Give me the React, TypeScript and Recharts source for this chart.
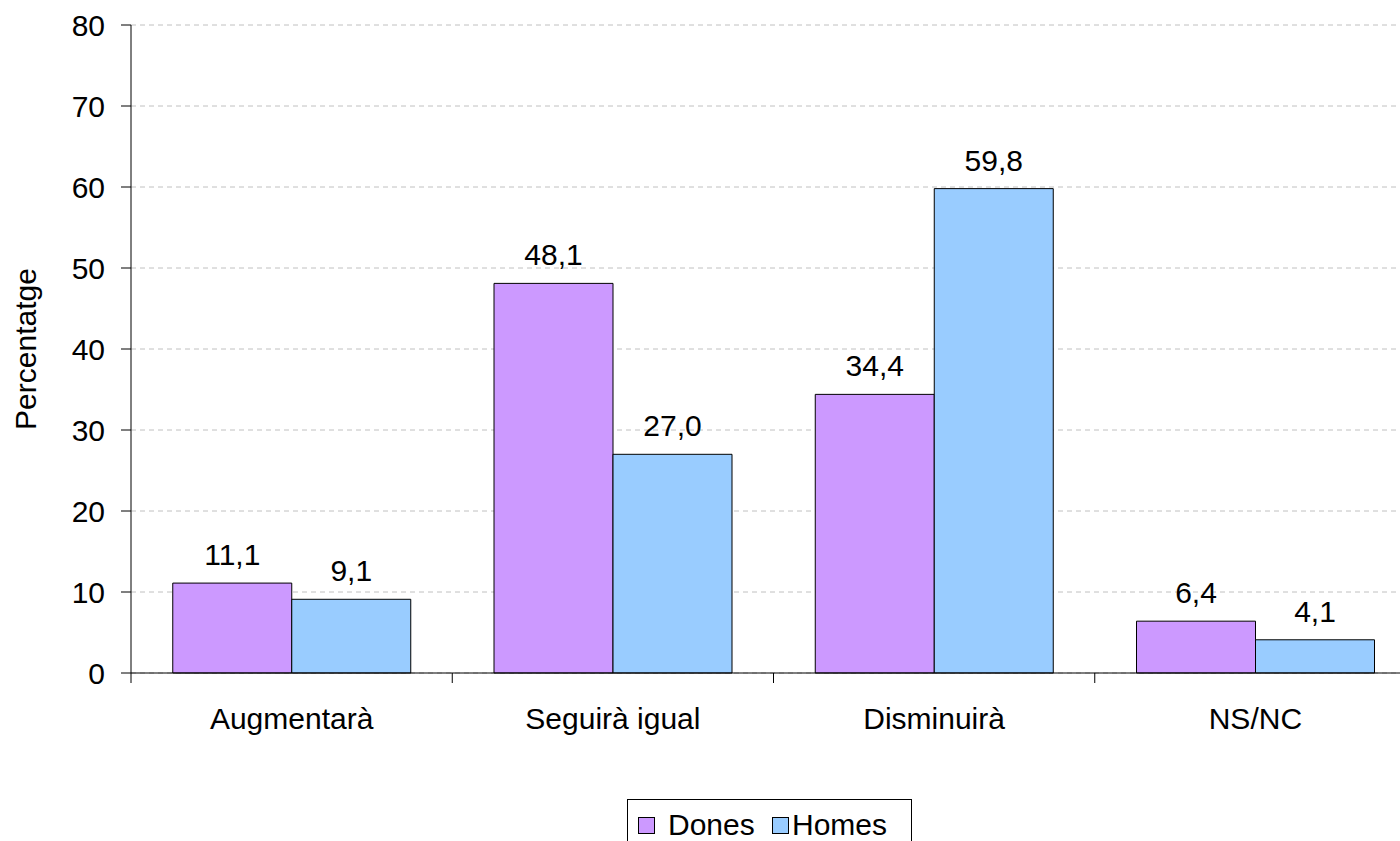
import React from 'react';
import { BarChart, Bar, XAxis, YAxis, CartesianGrid, LabelList, Legend, Label } from 'recharts';

const categories = ['Augmentarà', 'Seguirà igual', 'Disminuirà', 'NS/NC'];
const dones = [11.1, 48.1, 34.4, 6.4];
const homes = [9.1, 27.0, 59.8, 4.1];
const yTicks = [0, 10, 20, 30, 40, 50, 60, 70, 80];
const seriesNames = ['Dones', 'Homes'];
const seriesColors = ['#CC99FF', '#99CCFF'];

const data = categories.map((c, i) => ({ cat: c, dones: dones[i], homes: homes[i] }));

const FONT = '"Liberation Sans", Arial, sans-serif';
const fmt = (v: any) => Number(v).toFixed(1).replace('.', ',');

const XTick = (props: any) => {
  const { x, y, payload, index } = props;
  const off = payload && payload.offset != null ? payload.offset : 160.6;
  const top = y - 35;
  return (
    <g>
      <line x1={x - off} x2={x - off} y1={top} y2={top + 10} stroke="#000" strokeWidth={1} />
      {index === categories.length - 1 && (
        <line x1={x + off} x2={x + off} y1={top} y2={top + 10} stroke="#000" strokeWidth={1} />
      )}
      <text x={x} y={y} dy="0.71em" textAnchor="middle" fontSize={30} fontFamily={FONT} fill="#000">
        {payload.value}
      </text>
    </g>
  );
};

const LegendContent = (props: any) => {
  const squareX = [11, 145];
  const textX = [41, 165];
  return (
    <svg width={285} height={44} style={{ display: 'block' }}>
      <rect x={0.5} y={0.5} width={284} height={60} fill="#fff" stroke="#000" strokeWidth={1} />
      {seriesNames.map((n, i) => (
        <g key={n}>
          <rect x={squareX[i] + 0.5} y={18.5} width={16} height={16} fill={seriesColors[i]} stroke="#000" strokeWidth={1} />
          <text x={textX[i]} y={36} fontSize={30} fontFamily={FONT} fill="#000">{n}</text>
        </g>
      ))}
    </svg>
  );
};

const YTitle = (props: any) => {
  const vb = props.viewBox || { x: 0, y: 25, height: 648 };
  const cx = 25;
  const cy = vb.y + vb.height / 2;
  return (
    <text x={cx} y={cy} transform={`rotate(-90, ${cx}, ${cy})`} textAnchor="middle" dominantBaseline="central"
      fontSize={30} fontFamily={FONT} fill="#000">Percentatge</text>
  );
};

export default function App() {
  return (
    <div style={{ position: 'absolute', left: 0, top: 0, width: 1400, height: 841, overflow: 'hidden', background: '#fff' }}>
      <BarChart width={1420} height={841} data={data} margin={{ top: 25, right: 4, bottom: 0, left: 0 }}
        barCategoryGap="13%" barGap={0}>
        <CartesianGrid horizontal vertical={false} stroke="#C0C0C0" strokeDasharray="5 4" />
        <XAxis dataKey="cat" height={124} axisLine={{ stroke: '#000' }} tickLine={false} tickSize={10} tickMargin={25}
          tick={<XTick />} interval={0} />
        <YAxis width={131} domain={[0, 80]} ticks={yTicks} interval={0} axisLine={{ stroke: '#000' }}
          tickLine={{ stroke: '#000' }} tickSize={10} tickMargin={16}
          tick={{ fontSize: 30, fontFamily: FONT, fill: '#000' }}>
          <Label content={<YTitle />} />
        </YAxis>
        <Legend verticalAlign="bottom" content={<LegendContent />}
          wrapperStyle={{ left: 627, top: 799, width: 285, height: 44 }} />
        <Bar dataKey="dones" name="Dones" fill={seriesColors[0]} stroke="#000" strokeWidth={1} isAnimationActive={false}>
          <LabelList dataKey="dones" position="top" offset={18} formatter={fmt} fontSize={30} fontFamily={FONT} fill="#000" />
        </Bar>
        <Bar dataKey="homes" name="Homes" fill={seriesColors[1]} stroke="#000" strokeWidth={1} isAnimationActive={false}>
          <LabelList dataKey="homes" position="top" offset={18} formatter={fmt} fontSize={30} fontFamily={FONT} fill="#000" />
        </Bar>
      </BarChart>
    </div>
  );
}
